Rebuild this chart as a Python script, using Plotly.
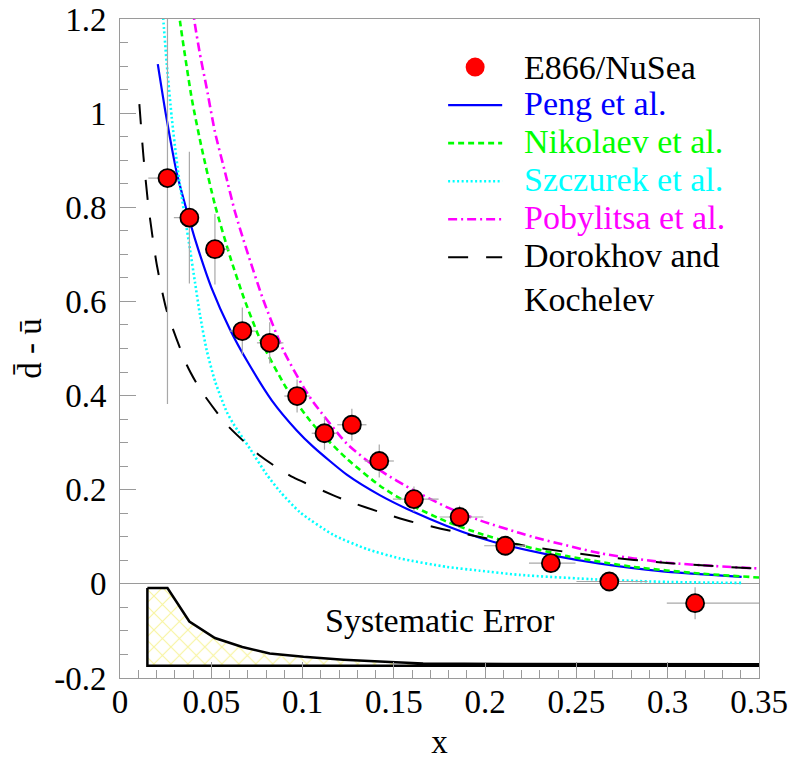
import plotly.graph_objects as go

# E866/NuSea measurement of dbar - ubar
x_data = [0.026, 0.038, 0.052, 0.067, 0.082, 0.097, 0.112, 0.127, 0.142, 0.161, 0.186, 0.211, 0.236, 0.268, 0.315]
y_data = [0.862, 0.778, 0.711, 0.537, 0.512, 0.399, 0.320, 0.338, 0.261, 0.180, 0.142, 0.081, 0.044, 0.005, -0.041]
y_err = [0.48, 0.14, 0.075, 0.05, 0.044, 0.035, 0.035, 0.034, 0.035, 0.027, 0.024, 0.02, 0.02, 0.02, 0.034]
x_err_minus = [0.0105, 0.0085, 0.005, 0.007, 0.007, 0.007, 0.007, 0.008, 0.008, 0.0115, 0.011, 0.0115, 0.012, 0.018, 0.0155]
x_err_plus = [0.004, 0.005, 0.008, 0.007, 0.0075, 0.007, 0.007, 0.008, 0.008, 0.0135, 0.013, 0.0115, 0.0135, 0.021, 0.04]

# Model curves
peng_x = [0.0207, 0.025, 0.031, 0.0386, 0.0429, 0.050, 0.0603, 0.0694, 0.0831, 0.0968, 0.1059, 0.1242,
          0.1425, 0.1607, 0.179, 0.197, 0.2115, 0.236, 0.263, 0.296, 0.3405]
peng_y = [1.104, 1.0, 0.875, 0.765, 0.71, 0.63, 0.54, 0.475, 0.39, 0.326, 0.291, 0.232,
          0.188, 0.153, 0.123, 0.098, 0.082, 0.061, 0.043, 0.027, 0.0147]

nik_x = [0.031, 0.0329, 0.0393, 0.0448, 0.052, 0.0603, 0.0676, 0.0767, 0.0913, 0.1059, 0.1242, 0.1425,
         0.1607, 0.179, 0.197, 0.2155, 0.2448, 0.2813, 0.3178, 0.35]
nik_y = [1.26, 1.194, 1.031, 0.925, 0.805, 0.695, 0.61, 0.52, 0.415, 0.338, 0.266, 0.208,
         0.165, 0.132, 0.107, 0.086, 0.059, 0.036, 0.022, 0.0134]

szc_x = [0.0230, 0.0237, 0.0256, 0.0283, 0.0307, 0.0329, 0.0356, 0.0384, 0.0411, 0.0438, 0.0475, 0.0521,
         0.0585, 0.0621, 0.0712, 0.0804, 0.0877, 0.0986, 0.1169, 0.1352, 0.1534, 0.1790, 0.1970, 0.2190,
         0.2630, 0.3000, 0.3405]
szc_y = [1.24, 1.20, 1.105, 0.992, 0.91, 0.845, 0.778, 0.709, 0.640, 0.572, 0.496, 0.430,
         0.365, 0.340, 0.287, 0.232, 0.196, 0.152, 0.104, 0.074, 0.054, 0.036, 0.028, 0.019,
         0.009, 0.004, 0.002]

pob_x = [0.0395, 0.0411, 0.0438, 0.0475, 0.052, 0.0575, 0.063, 0.0694, 0.0785, 0.0895, 0.1005, 0.1059,
         0.1242, 0.1425, 0.1607, 0.179, 0.197, 0.219, 0.2265, 0.263, 0.2996, 0.35]
pob_y = [1.23, 1.187, 1.125, 1.053, 0.960, 0.875, 0.790, 0.709, 0.603, 0.496, 0.418, 0.386,
         0.298, 0.241, 0.199, 0.163, 0.135, 0.108, 0.0995, 0.065, 0.045, 0.0325]

dk_x = [0.0106, 0.0128, 0.0155, 0.0201, 0.0256, 0.0366, 0.0438, 0.0585, 0.0767, 0.0877, 0.095, 0.1169,
        0.1242, 0.1443, 0.1607, 0.19, 0.2265, 0.263, 0.2996, 0.35]
dk_y = [1.019, 0.910, 0.804, 0.679, 0.580, 0.465, 0.414, 0.338, 0.272, 0.243, 0.226, 0.188,
        0.1765, 0.150, 0.131, 0.105, 0.078, 0.0583, 0.0443, 0.032]

# Systematic error band, drawn above a fixed baseline
sys_x = [0.015, 0.026, 0.038, 0.052, 0.067, 0.082, 0.1005, 0.1224, 0.148, 0.166, 0.211, 0.268, 0.35]
sys_err = [0.165, 0.165, 0.094, 0.059, 0.040, 0.026, 0.019, 0.013, 0.008, 0.005, 0.0035, 0.003, 0.003]
sys_base = -0.174

x_ticks = [0, 0.05, 0.1, 0.15, 0.2, 0.25, 0.3, 0.35]
x_tick_text = ["0", "0.05", "0.1", "0.15", "0.2", "0.25", "0.3", "0.35"]
y_ticks = [-0.2, 0, 0.2, 0.4, 0.6, 0.8, 1.0, 1.2]
y_tick_text = ["-0.2", "0", "0.2", "0.4", "0.6", "0.8", "1", "1.2"]

FONT = "Times New Roman"
FS = 33          # axis text
FS_NOTE = 34     # legend and band label
AX = "#9a9a9a"

fig = go.Figure()

band_x = sys_x + sys_x[::-1] + [sys_x[0]]
band_y = [sys_base + e for e in sys_err] + [sys_base] * len(sys_x) + [sys_base + sys_err[0]]
fig.add_trace(go.Scatter(
    x=band_x, y=band_y, mode="lines", fill="toself",
    fillcolor="rgba(0,0,0,0)",
    fillpattern=dict(shape="x", fgcolor="#f0e840", bgcolor="white", size=12, solidity=0.18),
    line=dict(color="black", width=2.5), showlegend=False, hoverinfo="skip"))

# (x, y, colour, dash, width, label)
curves = [
    (peng_x, peng_y, "#0000ff", "solid", 2.2, "Peng et al."),
    (nik_x, nik_y, "#00ff00", "6px,4px", 2.6, "Nikolaev et al."),
    (szc_x, szc_y, "#00ffff", "2px,2.5px", 2.6, "Szczurek et al."),
    (pob_x, pob_y, "#ff00ff", "9px,4px,2px,4px", 2.6, "Pobylitsa et al."),
    (dk_x, dk_y, "#000000", "20px,18px", 2.0, "Dorokhov and<br>Kochelev"),
]
for cx, cy, col, dash, w, name in curves:
    fig.add_trace(go.Scatter(
        x=cx, y=cy, mode="lines", name=name.replace("<br>", " "), showlegend=False,
        line=dict(color=col, dash=dash, width=w, shape="spline", smoothing=0.6),
        hoverinfo="skip"))

fig.add_trace(go.Scatter(
    x=x_data, y=y_data, mode="markers", name="E866/NuSea", showlegend=False,
    marker=dict(color="#ff0000", size=18, line=dict(color="black", width=1.8)),
    error_y=dict(type="data", array=y_err, color="#a8a8a8", thickness=1.2, width=0),
    error_x=dict(type="data", array=x_err_plus, arrayminus=x_err_minus, symmetric=False,
                 color="#a8a8a8", thickness=1.2, width=0)))

fig.add_annotation(x=0.1755, y=-0.077, xref="x", yref="y", text="Systematic Error",
                   showarrow=False, font=dict(family=FONT, size=FS_NOTE, color="black"))

# Legend block (paper coordinates)
leg_top = 0.927
leg_gap = 0.0577
sym_x0, sym_x1 = 0.5135, 0.5981
txt_x = 0.6294
fig.add_shape(type="circle", xref="paper", yref="paper", xsizemode="pixel", ysizemode="pixel",
              xanchor=(sym_x0 + sym_x1) / 2, yanchor=leg_top, x0=-9.5, x1=9.5, y0=-9.5, y1=9.5,
              fillcolor="#ff0000", line=dict(width=0))
fig.add_annotation(x=txt_x, y=leg_top, xref="paper", yref="paper", xanchor="left", yanchor="middle",
                   text="E866/NuSea", showarrow=False, font=dict(family=FONT, size=FS_NOTE, color="black"))
for i, (cx, cy, col, dash, w, name) in enumerate(curves, start=1):
    yy = leg_top - i * leg_gap
    fig.add_shape(type="line", xref="paper", yref="paper", x0=sym_x0, x1=sym_x1, y0=yy, y1=yy,
                  line=dict(color=col, dash=dash, width=w))
    fig.add_annotation(x=txt_x, y=yy + 0.0335, xref="paper", yref="paper", xanchor="left", yanchor="top",
                       align="left", text=name, showarrow=False,
                       font=dict(family=FONT, size=FS_NOTE, color=col))

axis_common = dict(
    showline=True, linecolor=AX, linewidth=1, mirror=True, showgrid=False,
    ticks="inside", ticklen=16, tickcolor=AX, tickwidth=1, automargin=False,
    tickfont=dict(family=FONT, size=FS, color="black"),
)
fig.update_xaxes(range=[0, 0.35], tickvals=x_ticks, ticktext=x_tick_text, zeroline=False,
                 minor=dict(ticks="inside", dtick=0.01, ticklen=8, tickcolor=AX),
                 ticklabelstandoff=-6,
                 title=dict(text="x", font=dict(family=FONT, size=FS, color="black"), standoff=34),
                 **axis_common)
fig.update_yaxes(range=[-0.2, 1.2], tickvals=y_ticks, ticktext=y_tick_text,
                 zeroline=True, zerolinecolor=AX, zerolinewidth=1,
                 minor=dict(ticks="inside", dtick=0.05, ticklen=8, tickcolor=AX),
                 ticklabelstandoff=6,
                 title=dict(text="d\u0304 - \u016b", font=dict(family=FONT, size=FS, color="black"), standoff=2),
                 **axis_common)

fig.update_layout(
    width=804, height=760,
    margin=dict(l=120, r=45, t=19, b=82),
    paper_bgcolor="white", plot_bgcolor="white",
    font=dict(family=FONT, size=FS, color="black"),
    showlegend=False,
)

fig.write_html("out.html")
